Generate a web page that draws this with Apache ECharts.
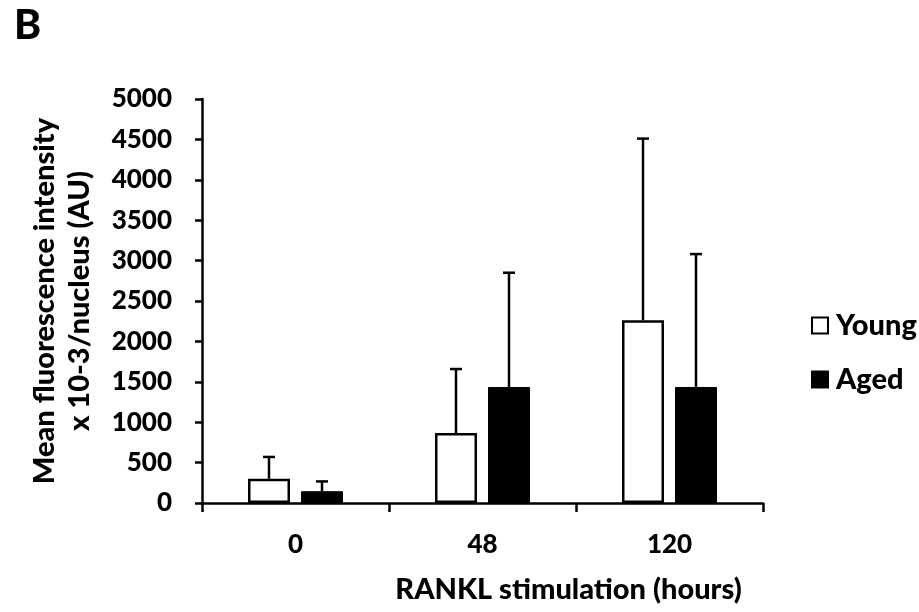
<!DOCTYPE html>
<html>
<head>
<meta charset="utf-8">
<script src="https://cdn.jsdelivr.net/npm/echarts@6/dist/echarts.min.js"></script>
<style>
  html, body { margin: 0; padding: 0; background: #fff; }
  #chart { width: 919px; height: 612px; }
</style>
</head>
<body>
<div id="chart"></div>
<script>
// data
const hours = ['0', '48', '120'];
const young = [300, 866, 2261];
const youngErrTop = [570, 1658, 4510];
const aged = [146, 1436, 1436];
const agedErrTop = [267, 2850, 3081];
const yTicks = { min: 0, max: 5000, step: 500 };

const FONT = 'Lato';
const W = 900;
const BAR_W = 42;
const BAR_GAP = 11;

// error bar data: [category index, bar value, upper end, side (-1 young, +1 aged)]
const errData = [];
hours.forEach((h, i) => {
  errData.push([i, young[i], youngErrTop[i], -1]);
  errData.push([i, aged[i], agedErrTop[i], 1]);
});

function renderErr(params, api) {
  const idx = api.value(0);
  const side = api.value(3);
  const lo = api.coord([idx, api.value(1)]);
  const hi = api.coord([idx, api.value(2)]);
  const x = lo[0] + side * (BAR_W + BAR_GAP) / 2;
  const cap = 6;
  const style = { stroke: '#000', lineWidth: 2.5 };
  return {
    type: 'group',
    children: [
      { type: 'line', shape: { x1: x, y1: lo[1], x2: x, y2: hi[1] }, style: style },
      { type: 'line', shape: { x1: x - cap, y1: hi[1], x2: x + cap, y2: hi[1] }, style: style }
    ]
  };
}

const chart = echarts.init(document.getElementById('chart'));
chart.setOption({
  animation: false,
  textStyle: { fontFamily: FONT, fontWeight: W, color: '#000' },
  title: {
    text: 'B',
    left: 9,
    top: 0,
    textStyle: { fontFamily: FONT, fontWeight: W, fontSize: 41, color: '#000' }
  },
  grid: { left: 202, right: 156, top: 99, bottom: 109 },
  legend: {
    data: [
      { name: 'Young', itemStyle: { color: '#fff', borderColor: '#000', borderWidth: 2 } },
      { name: 'Aged', itemStyle: { color: '#000' } }
    ],
    orient: 'vertical',
    left: 806,
    top: 306,
    icon: 'rect',
    itemWidth: 16,
    itemHeight: 16,
    itemGap: 25,
    textStyle: { fontFamily: FONT, fontWeight: W, fontSize: 29, color: '#000', padding: [0, 0, 0, 3] }
  },
  xAxis: {
    type: 'category',
    data: hours,
    boundaryGap: true,
    z: 5,
    name: 'RANKL stimulation (hours)',
    nameLocation: 'middle',
    nameGap: 72,
    nameTextStyle: { fontFamily: FONT, fontWeight: W, fontSize: 29, color: '#000', padding: [0, 0, 0, 172] },
    axisLine: { lineStyle: { color: '#000', width: 2.5 } },
    axisTick: { show: true, length: 9, lineStyle: { color: '#000', width: 2.5 } },
    axisLabel: { margin: 29, fontFamily: FONT, fontWeight: W, fontSize: 26, color: '#000' }
  },
  yAxis: {
    type: 'value',
    min: yTicks.min,
    max: yTicks.max,
    interval: yTicks.step,
    name: 'Mean fluorescence intensity\nx 10-3/nucleus (AU)',
    nameLocation: 'middle',
    nameRotate: 90,
    nameGap: 105,
    nameTextStyle: { fontFamily: FONT, fontWeight: W, fontSize: 29, color: '#000', lineHeight: 35 },
    axisLine: { show: true, lineStyle: { color: '#000', width: 2.5 } },
    axisTick: { show: true, length: 7, lineStyle: { color: '#000', width: 2.5 } },
    splitLine: { show: false },
    axisLabel: {
      margin: 30,
      fontFamily: FONT,
      fontWeight: W,
      fontSize: 26,
      color: '#000',
      formatter: v => String(v)
    }
  },
  series: [
    {
      name: 'Young',
      type: 'bar',
      data: young,
      barWidth: BAR_W,
      barGap: (BAR_GAP / BAR_W * 100) + '%',
      itemStyle: { color: '#fff', borderColor: '#000', borderWidth: 2.5 }
    },
    {
      name: 'Aged',
      type: 'bar',
      data: aged,
      barWidth: BAR_W,
      itemStyle: { color: '#000', borderColor: '#000', borderWidth: 1 }
    },
    {
      name: 'err',
      type: 'custom',
      renderItem: renderErr,
      data: errData,
      encode: { x: 0, y: [1, 2] },
      z: 1
    }
  ]
});
</script>
</body>
</html>
